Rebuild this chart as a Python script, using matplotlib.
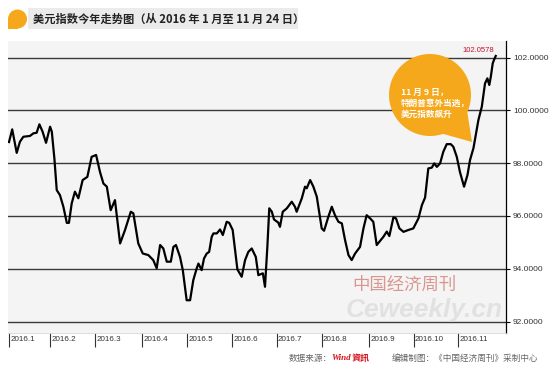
import matplotlib
matplotlib.use('Agg')
import matplotlib.pyplot as plt
import matplotlib.transforms as mtransforms
from matplotlib.patches import Circle, Polygon, Rectangle

plt.rcParams['font.family'] = ['Liberation Sans', 'DejaVu Sans']
CJK = ['Noto Sans CJK SC', 'DejaVu Sans']

# ---------------- data ----------------
title = "美元指数今年走势图（从 2016 年 1 月至 11 月 24 日）"
month_labels = ['2016.1', '2016.2', '2016.3', '2016.4', '2016.5', '2016.6',
                '2016.7', '2016.8', '2016.9', '2016.10', '2016.11']
month_pos = [0, 19, 40, 62, 83, 104, 125, 146, 168, 189, 210]   # trading-day index
y_ticks = [92, 94, 96, 98, 100, 102]

day_idx = [0, 1.5, 3.6, 5.1, 6.7, 9.8, 11.4, 12.9, 14.2, 15.7,
           17.3, 19.2, 20.0, 21.2, 22.3, 23.8, 25.4, 27.0, 28.0, 29.3,
           30.8, 32.4, 34.4, 36.6, 38.6, 40.7, 42.5, 44.1, 45.7, 47.5,
           49.5, 51.9, 54.2, 56.9, 58.1, 60.4, 62.5, 65.1, 67.4, 69.0,
           70.6, 72.1, 73.7, 75.6, 76.8, 78.0, 79.9, 81.2, 83.0, 84.6,
           86.1, 87.7, 88.5, 90.0, 91.1, 92.4, 93.5, 94.7, 95.5, 97.1,
           98.6, 99.9, 101.7, 102.9, 104.5, 105.6, 106.7, 108.7, 110.3, 111.8,
           113.4, 115.3, 116.5, 118.6, 119.6, 120.7, 121.6, 122.8, 123.8, 125.8,
           126.6, 127.9, 129.8, 132.1, 133.6, 134.4, 136.8, 138.3, 139.1, 140.7,
           142.2, 143.8, 145.0, 146.1, 147.2, 149.2, 150.8, 152.3, 153.9, 155.5,
           157.0, 158.6, 160.1, 161.7, 164.0, 165.6, 167.1, 168.7, 170.2, 171.8,
           173.0, 174.9, 176.5, 177.7, 179.6, 180.8, 182.4, 184.3, 186.6, 188.9,
           191.3, 192.9, 194.4, 195.9, 197.5, 198.7, 199.9, 201.4, 202.9, 204.5,
           206.4, 207.6, 209.2, 210.7, 212.6, 214.2, 215.4, 217.0, 218.2, 219.3,
           220.9, 222.4, 223.5, 224.4, 225.1, 226.0, 226.6, 227.4]

dxy = [98.80, 99.28, 98.39, 98.81, 99.00, 99.03, 99.13, 99.15, 99.47, 99.19,
       98.77, 99.38, 99.19, 98.18, 96.98, 96.79, 96.35, 95.74, 95.74, 96.48,
       96.92, 96.67, 97.36, 97.48, 98.24, 98.31, 97.67, 97.23, 97.11, 96.22,
       96.60, 94.96, 95.47, 96.16, 96.10, 94.96, 94.58, 94.52, 94.33, 94.02,
       94.90, 94.77, 94.27, 94.27, 94.83, 94.90, 94.45, 93.95, 92.81, 92.81,
       93.57, 94.02, 94.20, 93.95, 94.39, 94.58, 94.64, 95.21, 95.34, 95.34,
       95.49, 95.28, 95.78, 95.74, 95.47, 94.71, 93.98, 93.70, 94.33, 94.64,
       94.77, 94.45, 93.76, 93.83, 93.32, 94.83, 96.29, 96.16, 95.87, 95.75,
       95.59, 96.16, 96.29, 96.54, 96.35, 96.16, 96.67, 97.11, 97.05, 97.36,
       97.11, 96.73, 96.10, 95.53, 95.44, 95.97, 96.35, 96.03, 95.78, 95.72,
       95.09, 94.52, 94.33, 94.58, 94.83, 95.53, 96.03, 95.91, 95.78, 94.90,
       95.02, 95.21, 95.41, 95.24, 95.95, 95.91, 95.53, 95.40, 95.47, 95.53,
       95.91, 96.41, 96.70, 97.80, 97.83, 97.99, 97.86, 97.99, 98.43, 98.72,
       98.72, 98.62, 98.24, 97.66, 97.11, 97.55, 98.12, 98.57, 99.13, 99.63,
       100.14, 101.02, 101.21, 100.96, 101.27, 101.78, 101.91, 102.0578]

last_label = "102.0578"
bubble_lines = ["11 月 9 日，", "特朗普意外当选，", "美元指数飙升"]
source_label = "数据来源："
wind_label = "Wind"
wind_cn = "資訊"
editor_label = "编辑制图：《中国经济周刊》采制中心"

# ---------------- figure ----------------
W, H = 550, 370
fig = plt.figure(figsize=(W / 100, H / 100), dpi=100)
fig.patch.set_facecolor('white')
pt = fig.dpi_scale_trans


def P(x, y):
    return (x / 100, (H - y) / 100)


ax = fig.add_axes([8 / W, (H - 333) / H, (506 - 8) / W, (333 - 41) / H])
ax.set_facecolor('#f4f4f4')
ax.set_xlim(-0.47, 232.2)
ax.set_ylim(91.57, 102.625)

ax.plot(day_idx, dxy, color='black', lw=1.6, zorder=4, solid_joinstyle='round')

ax.set_yticks(y_ticks)
ax.set_yticklabels([f"{v:.4f}" for v in y_ticks])
ax.yaxis.tick_right()
ax.tick_params(axis='y', length=3, width=0.8, color='black', pad=2,
               labelsize=6, labelcolor='#333333')
ax.grid(axis='y', color='#3a3a3a', lw=1.0, zorder=1)
ax.set_axisbelow(True)

ax.set_xticks(month_pos)
ax.set_xticklabels(month_labels)
ax.tick_params(axis='x', length=10, width=0.8, color='#333333', pad=-7.6,
               labelsize=5.8, labelcolor='#333333')
off = mtransforms.ScaledTranslation(1.5 / 100, 0, pt)
for lab in ax.get_xticklabels():
    lab.set_ha('left')
    lab.set_transform(lab.get_transform() + off)

for s in ['top', 'left']:
    ax.spines[s].set_visible(False)
ax.spines['bottom'].set_color('#d8d8d8')
ax.spines['bottom'].set_linewidth(0.6)
ax.spines['right'].set_color('black')
ax.spines['right'].set_linewidth(0.9)

# last value label
ax.annotate(last_label, (day_idx[-1], dxy[-1]), xytext=(-2, 2),
            textcoords='offset pixels', ha='right', va='bottom',
            fontsize=5.5, color='#c8102e', zorder=6)

# speech bubble
orange = '#f5a81c'
fig.patches.append(Circle(P(430, 95), 0.41, transform=pt, facecolor=orange,
                          edgecolor='none', zorder=2))
fig.patches.append(Polygon([P(466, 104), P(472, 142), P(440, 133)], closed=True,
                           transform=pt, facecolor=orange, edgecolor='none', zorder=2))
for i, line in enumerate(bubble_lines):
    fig.text(*P(401, 92 + i * 11.3), line, transform=pt, ha='left', va='center',
             fontsize=6.2, color='white', fontweight='bold', family=CJK, zorder=7)

# title
fig.patches.append(Rectangle(P(28, 29), 2.70, 0.21, transform=pt,
                             facecolor='#ebebeb', edgecolor='none'))
fig.patches.append(Circle(P(17.5, 19), 0.095, transform=pt, facecolor=orange,
                          edgecolor='none'))
fig.patches.append(Rectangle(P(8, 28.5), 0.095, 0.095, transform=pt,
                             facecolor=orange, edgecolor='none'))
fig.text(*P(33, 19), title, transform=pt, ha='left', va='center', fontsize=8.1,
         fontweight='bold', color='#222222', family=CJK)

# watermark
fig.text(*P(346, 310), "Ceweekly.cn", transform=pt, ha='left', va='center',
         fontsize=19, fontweight='bold', style='italic', color='#dadada',
         alpha=0.7, zorder=8)
fig.text(*P(352, 285), "中国经济周刊", transform=pt, ha='left', va='center',
         fontsize=12.5, color='#c0392b', alpha=0.5, family=CJK, zorder=9)

# footer
fig.text(*P(289, 358), source_label, transform=pt, ha='left', va='center',
         fontsize=6.2, color='#666666', family=CJK)
fig.text(*P(331, 358), wind_label, transform=pt, ha='left', va='center',
         fontsize=6.5, color='#d4141c', fontweight='bold', style='italic',
         family=['Liberation Serif', 'DejaVu Serif'])
fig.text(*P(352, 358), wind_cn, transform=pt, ha='left', va='center',
         fontsize=6.5, color='#d4141c', fontweight='bold', family=CJK)
fig.text(*P(392, 358), editor_label, transform=pt, ha='left', va='center',
         fontsize=6.2, color='#666666', family=CJK)

fig.savefig('out.png', dpi=100)
